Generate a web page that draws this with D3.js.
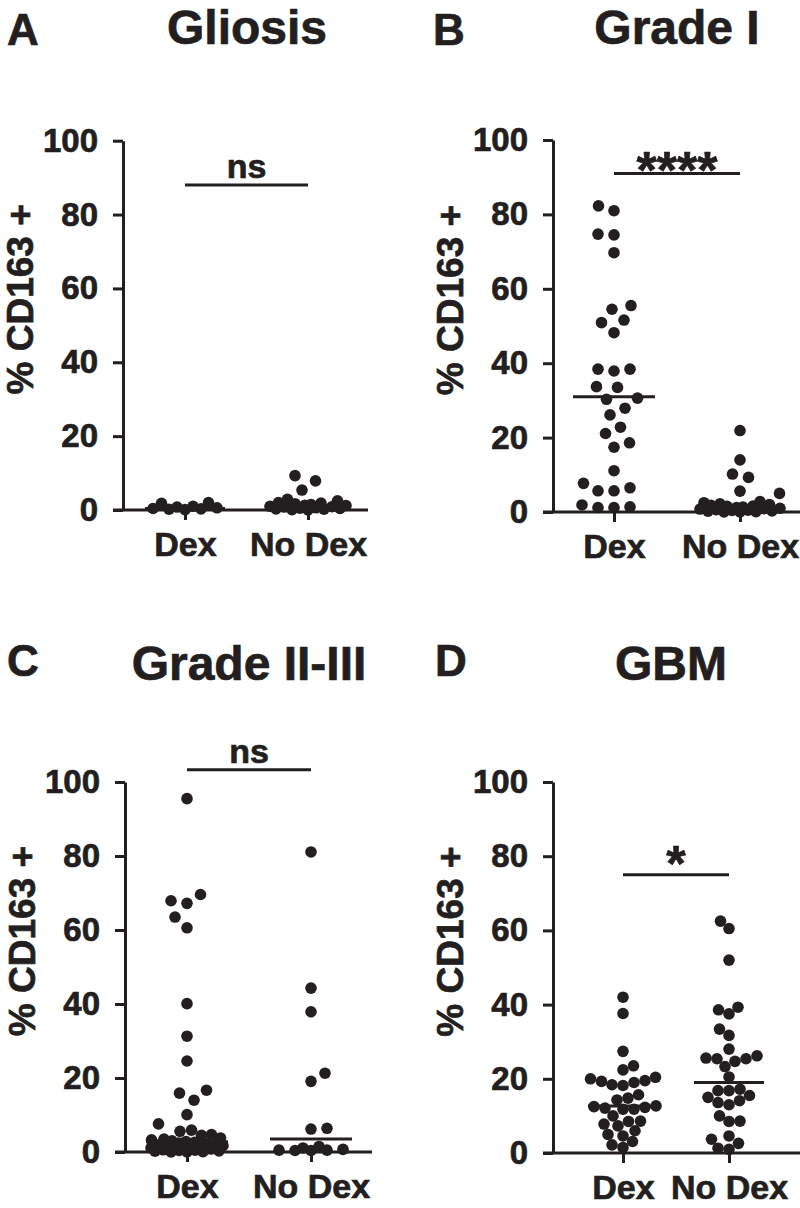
<!DOCTYPE html>
<html><head><meta charset="utf-8">
<script src="https://cdn.jsdelivr.net/npm/d3@7"></script>
<style>
body{margin:0;background:#fff}
svg{display:block}
text{font-family:"Liberation Sans",Arial,sans-serif;font-weight:bold;fill:#231f20;stroke:#231f20;stroke-width:0.7px}
</style>
</head><body><svg id="chart" width="800" height="1208"></svg>
<script>
// ---------------- data ----------------
const categories = ["Dex", "No Dex"];
const yTicks = [0, 20, 40, 60, 80, 100];
const yLabel = "% CD163 +";
const panelLetters = ["A", "B", "C", "D"];
const panelTitles = ["Gliosis", "Grade I", "Grade II-III", "GBM"];
const sigLabels = ["ns", "****", "ns", "*"];
const sigLevels = [88, 91, 103.3, 75];

const gliosisDex = [2.0, 1.8, 1.0, 0.8, 0.6, 0.4, 0.3, 0.2, 0.1];
const gliosisNoDex = [9.3, 7.9, 5.4, 2.9, 2.5, 2.0, 1.9, 1.7, 1.5, 1.3, 1.2, 1.0, 0.9, 0.8, 0.6, 0.5, 0.4, 0.3, 0.2, 0.1, 0.0];
const gradeIDex = [82.3, 81.0, 74.7, 74.5, 69.7, 55.5, 54.5, 51.6, 50.9, 48.2, 38.4, 38.4, 37.9, 33.7, 33.5, 30.6, 30.3, 27.9, 26.1, 22.8, 21.1, 18.6, 17.4, 11.1, 7.7, 6.5, 5.7, 5.7, 1.9, 1.4, 1.2, 1.2];
const gradeINoDex = [21.9, 14.0, 10.2, 9.3, 5.6, 5.0, 2.8, 2.5, 2.2, 2.0, 1.8, 1.6, 1.5, 1.3, 1.2, 1.0, 0.9, 0.8, 0.6, 0.5, 0.4, 0.3, 0.2, 0.1, 0.0, 0.0];
const gradeIIDex = [95.5, 69.6, 67.9, 67.2, 63.5, 60.6, 40.1, 31.3, 24.6, 16.7, 15.9, 14.0, 10.1, 7.6, 5.9, 5.6, 4.7, 4.5, 3.8, 3.5, 3.3, 3.0, 2.8, 2.6, 2.4, 2.2, 2.0, 1.9, 1.7, 1.6, 1.4, 1.3, 1.1, 1.0, 0.9, 0.8, 0.6, 0.5, 0.4, 0.3, 0.2, 0.1, 0.0, 0.0];
const gradeIINoDex = [81.1, 44.3, 37.9, 21.3, 19.1, 6.4, 6.2, 1.5, 1.1, 0.7, 0.5, 0.5, 0.4, 0.4];
const gbmDex = [42.0, 37.6, 27.4, 23.5, 22.4, 20.4, 20.0, 19.5, 19.3, 19.0, 18.4, 18.2, 15.7, 14.8, 14.3, 12.7, 12.5, 12.3, 12.1, 11.8, 11.8, 10.0, 8.6, 8.5, 7.8, 7.3, 6.0, 5.0, 4.6, 3.1, 2.2, 1.5];
const gbmNoDex = [62.5, 60.5, 52.0, 39.3, 38.6, 37.5, 33.4, 31.7, 28.0, 26.2, 25.6, 25.4, 25.4, 24.7, 23.3, 20.5, 17.2, 16.8, 16.8, 15.5, 15.0, 14.1, 13.6, 13.0, 10.0, 8.6, 8.5, 4.6, 3.7, 2.6, 1.3, 1.0];

const medianDex = [0.4, 31, 2.8, 12.7];
const medianNoDex = [1.0, 1.0, 3.5, 19];

const seriesDex = [gliosisDex, gradeIDex, gradeIIDex, gbmDex];
const seriesNoDex = [gliosisNoDex, gradeINoDex, gradeIINoDex, gbmNoDex];

// ---------------- layout ----------------
const layouts = [
  {axisX:123, y0:510, y100:140.7, xStart:113, xEnd:368, c0:185, c1:308, titleX:247, titleY:44, letterX:7, letterY:45, medHalf:40, swarmHalf:38, gap:16, sigDy:-7, sigSize:34},
  {axisX:553, y0:512, y100:140, xStart:543, xEnd:800, c0:614, c1:740, titleX:677, titleY:44, letterX:433, letterY:45, medHalf:41, swarmHalf:40, gap:16, sigDy:15, sigSize:52},
  {axisX:125, y0:1152, y100:782, xStart:115, xEnd:372, c0:187, c1:311, titleX:249, titleY:680, letterX:7, letterY:676, medHalf:41, swarmHalf:36, gap:16, sigDy:-7, sigSize:34},
  {axisX:553, y0:1153, y100:782, xStart:543, xEnd:800, c0:623, c1:729, titleX:671, titleY:680, letterX:435, letterY:676, medHalf:35, swarmHalf:42, gap:11, sigDy:6, sigSize:50}
];

const INK = "#231f20";
const R = 5.8;
const svg = d3.select("#chart");

function swarm(values, y, half, gap) {
  const order = values.map((v, i) => i).sort((a, b) => values[a] - values[b]);
  const placed = [];
  const xs = new Array(values.length);
  const minD = (dx, py) => {
    let m = Infinity;
    for (const p of placed) {
      const d = Math.hypot(dx - p[0], py - p[1]);
      if (d < m) m = d;
    }
    return m;
  };
  let flip = 1;
  for (const i of order) {
    const py = y(values[i]);
    let found = null;
    for (let k = 0; k <= half && found === null; k += 0.5) {
      for (const s of [flip, -flip]) {
        const dx = s * k;
        if (minD(dx, py) >= gap) { found = dx; break; }
      }
    }
    if (found === null) {
      let best = 0, bestScore = -Infinity;
      for (let k = 0; k <= half; k += 0.5) {
        for (const s of [flip, -flip]) {
          const dx = s * k;
          const sc = minD(dx, py);
          if (sc > bestScore + 1e-9) { bestScore = sc; best = dx; }
        }
      }
      found = best;
    }
    flip = -flip;
    placed.push([found, py]);
    xs[i] = found;
  }
  return xs;
}

layouts.forEach((L, pi) => {
  const g = svg.append("g");
  const y = d3.scaleLinear().domain([0, 100]).range([L.y0, L.y100]);
  const x = d3.scalePoint().domain(categories).range([L.c0, L.c1]);

  // letter & title
  g.append("text").attr("x", L.letterX).attr("y", L.letterY)
    .attr("font-size", 44).text(panelLetters[pi]);
  g.append("text").attr("x", L.titleX).attr("y", L.titleY)
    .attr("text-anchor", "middle").attr("font-size", 48).text(panelTitles[pi]);

  // y axis
  const ya = g.append("g").attr("transform", `translate(${L.axisX},0)`)
    .call(d3.axisLeft(y).tickValues(yTicks).tickSize(10).tickSizeOuter(0).tickPadding(15));
  ya.attr("font-family", null).attr("font-size", null);
  ya.selectAll("path,line").attr("stroke", INK).attr("stroke-width", 3);
  ya.selectAll("text").attr("font-size", 33).attr("fill", INK);

  // y label
  g.append("text")
    .attr("transform", `translate(${L.axisX - 90},${(L.y0 + L.y100) / 2 - 26}) rotate(-90)`)
    .attr("text-anchor", "middle").attr("font-size", 37).text(yLabel);

  // x axis
  g.append("line").attr("x1", L.xStart).attr("x2", L.xEnd).attr("y1", L.y0).attr("y2", L.y0)
    .attr("stroke", INK).attr("stroke-width", 3);
  const xa = g.append("g").attr("transform", `translate(0,${L.y0})`)
    .call(d3.axisBottom(x).tickSize(10).tickPadding(12));
  xa.attr("font-family", null).attr("font-size", null);
  xa.select(".domain").remove();
  xa.selectAll("line").attr("stroke", INK).attr("stroke-width", 3);
  xa.selectAll("text").attr("font-size", 34).attr("fill", INK);

  // points
  [seriesDex[pi], seriesNoDex[pi]].forEach((vals, ci) => {
    const cx = x(categories[ci]);
    const offs = swarm(vals, y, L.swarmHalf, L.gap);
    g.append("g").selectAll("circle").data(vals).join("circle")
      .attr("cx", (d, i) => cx + offs[i]).attr("cy", d => y(d)).attr("r", R)
      .attr("fill", INK);
  });

  // medians
  [medianDex[pi], medianNoDex[pi]].forEach((m, ci) => {
    const cx = x(categories[ci]);
    g.append("line").attr("x1", cx - L.medHalf).attr("x2", cx + L.medHalf)
      .attr("y1", y(m)).attr("y2", y(m)).attr("stroke", INK).attr("stroke-width", 3);
  });

  // significance
  g.append("line").attr("x1", x(categories[0])).attr("x2", x(categories[1]))
    .attr("y1", y(sigLevels[pi])).attr("y2", y(sigLevels[pi]))
    .attr("stroke", INK).attr("stroke-width", 3);
  g.append("text").attr("x", (x(categories[0]) + x(categories[1])) / 2)
    .attr("y", y(sigLevels[pi]) + L.sigDy).attr("text-anchor", "middle")
    .attr("font-size", L.sigSize).text(sigLabels[pi]);
});
</script>
</body></html>
